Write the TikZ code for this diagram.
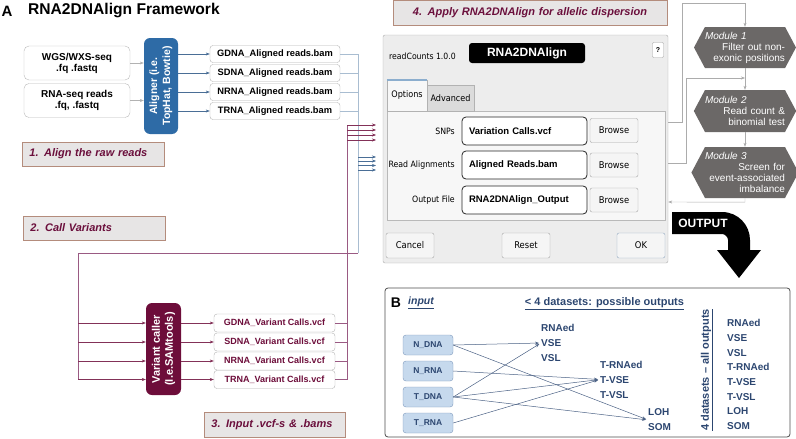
\documentclass[tikz,border=0pt]{standalone}
\usepackage{fontspec}
\setmainfont{Liberation Sans}
\newfontfamily\condfont{DejaVu Sans Condensed}
\usetikzlibrary{arrows.meta,shapes.symbols}

\definecolor{alignblue}{HTML}{2E6BA6}
\definecolor{vcred}{HTML}{6D0D3A}
\definecolor{steptext}{HTML}{6B0F3C}
\definecolor{stepfill}{HTML}{E7E5E5}
\definecolor{stepline}{HTML}{B48C7C}
\definecolor{busblue}{HTML}{A9BDD1}
\definecolor{arrblue}{HTML}{4A6E96}
\definecolor{buspurple}{HTML}{9A5A83}
\definecolor{modgray}{HTML}{6B6867}
\definecolor{wingray}{HTML}{EDEDED}
\definecolor{navy}{HTML}{2C4670}
\definecolor{inblue}{HTML}{C6D9ED}
\definecolor{inline}{HTML}{7C99BC}

\newcommand{\setfs}[2]{\fontsize{#1}{#2}\selectfont}
\newcommand{\modname}[1]{\makebox[\linewidth][l]{\itshape #1}}

\tikzset{
  srcbox/.style={draw=gray!55, rounded corners=5pt, minimum width=106, minimum height=34, align=center, inner sep=1pt, font=\bfseries\setfs{10}{11}},
  toolbox/.style={rotate=90, rounded corners=6pt, text=white, align=center, inner sep=1pt, font=\bfseries\setfs{10.5}{13}},
  filebox/.style={draw=gray!60, rounded corners=3pt, fill=white, minimum width=130, minimum height=17, inner sep=1pt, font=\bfseries\setfs{9.3}{10}},
  stepbox/.style={fill=stepfill, draw=stepline, line width=0.8pt, text=steptext, minimum height=24, inner xsep=7, align=left, font=\bfseries\itshape\setfs{11}{12}},
  graylink/.style={draw=gray!60, ->},
  bluelink/.style={draw=arrblue, ->},
  busline/.style={draw=busblue, line width=0.8pt},
  vcline/.style={draw=buspurple, line width=0.7pt},
  vclink/.style={draw=vcred!85, ->},
  fieldbox/.style={draw=black!85, line width=0.8pt, fill=white, rounded corners=4pt, minimum width=125, minimum height=28, text width=111, inner xsep=7, align=left, font=\bfseries\setfs{9.5}{10}},
  fieldlbl/.style={anchor=east, inner sep=0, font=\condfont\setfs{8.7}{10}},
  btn/.style={draw=gray!70, fill=gray!8, rounded corners=2pt, minimum width=48, minimum height=24, inner sep=0, font=\condfont\setfs{9.3}{10}},
  module/.style={signal, signal to=east and west, signal pointer angle=124, fill=modgray, text=white, text width=80, inner xsep=0, inner ysep=1, align=right, font=\setfs{10}{11}},
  modlink/.style={draw=gray!65, ->},
  inbox/.style={fill=inblue, draw=inline, rounded corners=3pt, minimum width=50, minimum height=20, inner sep=1pt, text=navy, font=\bfseries\setfs{8.5}{9}},
  outlist/.style={anchor=west, inner sep=0, align=left, text=navy, font=\bfseries\setfs{10}{15}},
  blink/.style={draw=navy!85, line width=0.5pt, ->, shorten >=2pt}
}

\begin{document}
\begin{tikzpicture}[x=1pt,y=-1pt,>={Stealth[length=4pt,width=3pt]}]
  \useasboundingbox (0,0) rectangle (796,439);

  \node[font=\bfseries\setfs{15}{16}, inner sep=0] (lblA) at (7,11) {A};
  \node[font=\bfseries\setfs{15.6}{16}, anchor=west, inner sep=0] (title) at (28,11) {RNA2DNAlign Framework};

  \draw
    (77,63) node[srcbox] (wgs) {WGS/WXS-seq\\.fq .fastq}
    (77,100.5) node[srcbox] (rnaseq) {RNA-seq reads\\.fq, .fastq}
    (161,86) node[toolbox, fill=alignblue, minimum width=96, minimum height=34] (aligner) {Aligner (i.e.\\TopHat, Bowtie)}
    (275,54) node[filebox] (gbam) {GDNA\_Aligned reads.bam}
    (275,73) node[filebox] (sbam) {SDNA\_Aligned reads.bam}
    (275,92) node[filebox] (nbam) {NRNA\_Aligned reads.bam}
    (275,111) node[filebox] (tbam) {TRNA\_Aligned reads.bam};

  \draw
    (163.5,349) node[toolbox, fill=vcred, minimum width=92, minimum height=35, font=\bfseries\setfs{11}{13}] (varcaller) {Variant caller\\(I.e.SAMtools)}
    (274.5,323) node[filebox, text=vcred, minimum width=121, minimum height=18, font=\bfseries\setfs{9}{10}] (gvcf) {GDNA\_Variant Calls.vcf}
    (274.5,342) node[filebox, text=vcred, minimum width=121, minimum height=18, font=\bfseries\setfs{9}{10}] (svcf) {SDNA\_Variant Calls.vcf}
    (274.5,361) node[filebox, text=vcred, minimum width=121, minimum height=18, font=\bfseries\setfs{9}{10}] (nvcf) {NRNA\_Variant Calls.vcf}
    (274.5,379.5) node[filebox, text=vcred, minimum width=121, minimum height=18, font=\bfseries\setfs{9}{10}] (tvcf) {TRNA\_Variant Calls.vcf};

  \node[stepbox, anchor=west, text width=128] (step1) at (22,154) {1. Align the raw reads};
  \node[stepbox, anchor=west, text width=128] (step2) at (23,228) {2. Call Variants};
  \node[stepbox, anchor=west, text width=127, minimum height=25] (step3) at (204,424.5) {3. Input .vcf-s \& .bams};
  \node[stepbox, text width=260, minimum height=25, align=center] (step4) at (530,12.5) {4. Apply RNA2DNAlign for allelic dispersion};

  \coordinate (bustop) at (358,54);
  \coordinate (busbot) at (358,253);
  \coordinate (vcleft) at (78,253);
  \coordinate (vctop) at (347,125);
  \coordinate (vin1) at (376,125);
  \coordinate (vin2) at (376,130);
  \coordinate (vin3) at (376,135);
  \coordinate (vin4) at (376,140);
  \coordinate (bin1) at (376,157);
  \coordinate (bin2) at (376,161);
  \coordinate (bin3) at (376,165.5);
  \coordinate (bin4) at (376,170);

  \begin{scope}[graylink]
    \draw (wgs.east) to (wgs.east -| aligner.north);
    \draw (rnaseq.east) to (rnaseq.east -| aligner.north);
  \end{scope}
  \begin{scope}[bluelink]
    \draw (aligner.south |- gbam) to (gbam.west);
    \draw (aligner.south |- sbam) to (sbam.west);
    \draw (aligner.south |- nbam) to (nbam.west);
    \draw (aligner.south |- tbam) to (tbam.west);
  \end{scope}
  \begin{scope}[busline]
    \draw (gbam.east) to (bustop) to (busbot);
    \draw (sbam.east) to (sbam.east -| bustop);
    \draw (nbam.east) to (nbam.east -| bustop);
    \draw (tbam.east) to (tbam.east -| bustop);
  \end{scope}
  \begin{scope}[vcline]
    \draw (busbot) to (vcleft) to (vcleft |- tvcf);
    \draw (vctop) to (vctop |- tvcf);
    \draw (gvcf.east) to (gvcf.east -| vctop);
    \draw (svcf.east) to (svcf.east -| vctop);
    \draw (nvcf.east) to (nvcf.east -| vctop);
    \draw (tvcf.east) to (tvcf.east -| vctop);
  \end{scope}
  \begin{scope}[vclink]
    \draw (vcleft |- gvcf) to (gvcf -| varcaller.north);
    \draw (vcleft |- svcf) to (svcf -| varcaller.north);
    \draw (vcleft |- nvcf) to (nvcf -| varcaller.north);
    \draw (vcleft |- tvcf) to (tvcf -| varcaller.north);
    \draw (varcaller.south |- gvcf) to (gvcf.west);
    \draw (varcaller.south |- svcf) to (svcf.west);
    \draw (varcaller.south |- nvcf) to (nvcf.west);
    \draw (varcaller.south |- tvcf) to (tvcf.west);
    \draw (vctop) to (vin1);
    \draw (vctop |- vin2) to (vin2);
    \draw (vctop |- vin3) to (vin3);
    \draw (vctop |- vin4) to (vin4);
  \end{scope}
  \begin{scope}[bluelink]
    \draw (bustop |- bin1) to (bin1);
    \draw (bustop |- bin2) to (bin2);
    \draw (bustop |- bin3) to (bin3);
    \draw (bustop |- bin4) to (bin4);
  \end{scope}

  \node[draw=gray!65, fill=wingray, rounded corners=2pt, minimum width=285, minimum height=228] (win) at (525.5,149) {};
  \node[anchor=west, inner sep=0, font=\condfont\setfs{8.6}{10}] (version) at (389,56) {readCounts 1.0.0};
  \node[fill=black, rounded corners=3pt, minimum width=116, minimum height=20, inner sep=0, text=white, font=\bfseries\setfs{12}{13}] (apptitle) at (527,53) {RNA2DNAlign};
  \node[draw=gray!70, fill=white, rounded corners=1pt, minimum width=11, minimum height=15, inner sep=0, font=\bfseries\setfs{7}{8}] (help) at (658,50) {?};
  \node[draw=gray!55, fill=gray!6, minimum width=278, minimum height=109] (optpanel) at (526,165.5) {};
  \node[draw=gray!60, fill=gray!28, minimum width=47, minimum height=26, inner sep=0, font=\condfont\setfs{9}{10}] (advtab) at (450.5,98) {Advanced};
  \node[draw=gray!60, fill=gray!6, minimum width=40, minimum height=31, inner sep=0, font=\condfont\setfs{9}{10}] (opttab) at (407,95.5) {Options};
  \draw[alignblue!55, line width=1.8pt] (opttab.north west) -- (opttab.north east);

  \draw
    (455,131) node[fieldlbl] (snplbl) {SNPs}
    (455,165) node[fieldlbl] (readlbl) {Read Alignments}
    (455,200) node[fieldlbl] (outlbl) {Output File}
    (524.5,131) node[fieldbox] (snpfld) {Variation Calls.vcf}
    (524.5,165) node[fieldbox] (readfld) {Aligned Reads.bam}
    (524.5,200) node[fieldbox] (outfld) {RNA2DNAlign\_Output}
    (614,130.5) node[btn] (browse1) {Browse}
    (614,165) node[btn] (browse2) {Browse}
    (614,200) node[btn] (browse3) {Browse}
    (410,245.5) node[btn, minimum height=25] (cancel) {Cancel}
    (526,245.5) node[btn, minimum height=25] (reset) {Reset}
    (641,245.5) node[btn, minimum height=25, draw=arrblue!60] (okbtn) {OK};

  \node[module, minimum width=102, minimum height=41] (m1) at (745,47.5) {\modname{Module 1}\\Filter out non-\\exonic positions};
  \node[module, minimum width=102, minimum height=42] (m2) at (745,111) {\modname{Module 2}\\Read count \&\\binomial test};
  \node[module, minimum width=102, minimum height=51] (m3) at (745,172.5) {\modname{Module 3}\\Screen for\\event-associated\\imbalance};

  \begin{scope}[modlink]
    \draw (win.east |- 0,122) -| (682,3) -| (m1.north);
    \draw (m1.south) to (m2.north);
    \draw (win.east |- 0,163) -| (686,78) -- (m1.south |- 0,78);
    \draw (m2.south) to (m3.north);
    \draw (m3.south) -- ++(0,4) -- (win.east |- 0,202);
  \end{scope}

  \fill[black] (672,212) -- (722,212) .. controls (738,212) and (750,225) .. (750,240)
    -- (750,250) -- (761,250) -- (739,278) -- (717,250) -- (728,250) -- (728,240)
    .. controls (728,237) and (725,234) .. (722,234) -- (672,234) -- cycle;
  \node[inner sep=0, text=white, font=\bfseries\setfs{12}{13}] (outtag) at (703,223) {OUTPUT};

  \node[draw=black!70, line width=0.8pt, rounded corners=3pt, minimum width=405, minimum height=149] (panelB) at (587.5,362.5) {};
  \node[inner sep=0, font=\bfseries\setfs{14}{15}] (lblB) at (396,303) {B};
  \node[inner sep=0, text=navy, font=\bfseries\itshape\setfs{10.5}{12}] (inputlbl) at (421,303) {\underline{input}};
  \node[inner sep=0, text=navy, font=\bfseries\setfs{11}{12}] (fewlbl) at (604.5,304) {\underline{< 4 datasets: possible outputs}};
  \node[rotate=90, inner sep=0, text=navy, font=\bfseries\setfs{11}{12}] (alllbl) at (707,370) {\underline{4 datasets – all outputs}};
  \node[outlist, font=\bfseries\setfs{10}{14.7}] (alllist) at (727,374.5) {RNAed\\VSE\\VSL\\T-RNAed\\T-VSE\\T-VSL\\LOH\\SOM};

  \draw
    (428,345) node[inbox] (ndna) {N\_DNA}
    (428,371) node[inbox] (nrna) {N\_RNA}
    (428,397) node[inbox] (tdna) {T\_DNA}
    (428,423) node[inbox] (trna) {T\_RNA}
    (541,343) node[outlist] (grp1) {RNAed\\VSE\\VSL}
    (600,379.5) node[outlist] (grp2) {T-RNAed\\T-VSE\\T-VSL}
    (648,420) node[outlist] (grp3) {LOH\\SOM};

  \begin{scope}[blink]
    \draw (ndna.east) to (grp1.west);
    \draw (ndna.east) to (grp3.west);
    \draw (nrna.east) to (grp2.west);
    \draw (tdna.east) to (grp1.west);
    \draw (tdna.east) to (grp2.west);
    \draw (tdna.east) to (grp3.west);
    \draw (trna.east) to (grp2.west);
  \end{scope}
\end{tikzpicture}
\end{document}
